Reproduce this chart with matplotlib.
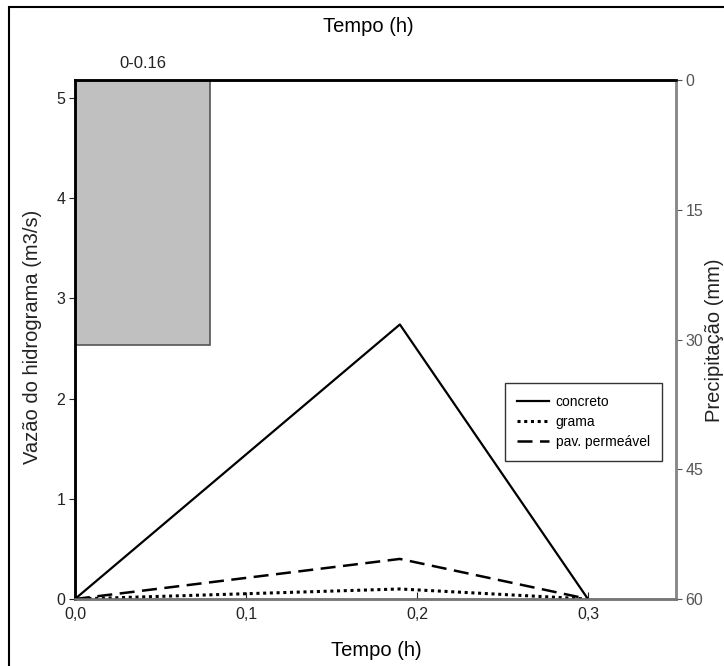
import matplotlib.pyplot as plt
from matplotlib.patches import Rectangle
from matplotlib.ticker import FuncFormatter

plt.rcParams['font.family'] = ['Liberation Sans', 'DejaVu Sans']

# --- DATA ---
tempo = [0.0, 0.19, 0.30]
concreto = [0.0, 2.74, 0.0]
grama = [0.0, 0.10, 0.0]
pav_permeavel = [0.0, 0.40, 0.0]

chuva_inicio = [0.0]
chuva_duracao = [0.079]
chuva_mm = [30.6]
chuva_rotulo = "0-0.16"

x_ticks = [0.0, 0.1, 0.2, 0.3]
y_ticks = [0, 1, 2, 3, 4, 5]
p_ticks = [0, 15, 30, 45, 60]

W, H = 724, 666
fig = plt.figure(figsize=(W / 100, H / 100), dpi=100)
ax = fig.add_axes([75 / W, 1 - 599 / H, 601 / W, 519 / H])

# moldura externa
fig.patches.append(Rectangle((9 / W, -0.1), 1.2, 1 - 7 / H + 0.1,
                             transform=fig.transFigure, fill=False,
                             edgecolor='black', lw=1.5))

ax.plot(tempo, concreto, color='black', lw=1.6, label='concreto')
ax.plot(tempo, grama, color='black', lw=2.2, ls=(0, (1, 1.2)), label='grama')
ax.plot(tempo, pav_permeavel, color='black', lw=1.8, ls=(0, (6, 3)), label='pav. permeável')

ax.set_xlim(0, 0.3515)
ax.set_ylim(0, 5.18)
ax.set_xticks(x_ticks)
ax.set_yticks(y_ticks)
ax.xaxis.set_major_formatter(FuncFormatter(lambda v, p: f"{v:.1f}".replace('.', ',')))
ax.tick_params(axis='x', direction='in', length=5, labelsize=11.5, colors='#222222', pad=6)
ax.tick_params(axis='y', direction='out', length=4, labelsize=11.5, colors='#222222', pad=3)

ax2 = ax.twinx()
ax2.bar(chuva_inicio, chuva_mm, width=chuva_duracao, align='edge',
        color='#c0c0c0', edgecolor='#555555', lw=1.2)
ax2.set_ylim(60, 0)
ax2.set_yticks(p_ticks)
ax2.tick_params(axis='y', direction='out', length=4, labelsize=11.5, colors='#555555', pad=3)
ax2.text(chuva_inicio[0] + chuva_duracao[0] / 2, -1.0, chuva_rotulo,
         ha='center', va='bottom', fontsize=12, color='#222222')

for a in (ax, ax2):
    a.spines['top'].set_color('black')
    a.spines['top'].set_linewidth(1.8)
    a.spines['left'].set_color('black')
    a.spines['left'].set_linewidth(1.8)
    a.spines['bottom'].set_color('#777777')
    a.spines['bottom'].set_linewidth(1.8)
    a.spines['right'].set_color('#888888')
    a.spines['right'].set_linewidth(1.8)

ax.set_zorder(ax2.get_zorder() + 1)
ax.patch.set_visible(False)

leg = ax.legend(loc='upper left', bbox_to_anchor=((505 - 75) / 601, (599 - 383) / 519),
                fontsize=10, frameon=True, fancybox=False, handlelength=2.3,
                borderpad=0.85, labelspacing=0.45, handletextpad=0.5, borderaxespad=0)
leg.get_frame().set_edgecolor('black')
leg.get_frame().set_linewidth(1.0)

# titulos dos eixos
fig.text(368 / W, 1 - 27 / H, 'Tempo (h)', ha='center', va='center', fontsize=14.5)
fig.text(376 / W, 1 - 651 / H, 'Tempo (h)', ha='center', va='center', fontsize=14.5)
fig.text(33 / W, 1 - 337 / H, 'Vazão do hidrograma (m3/s)', ha='center', va='center',
         rotation=90, fontsize=14.5, color='#222222')
fig.text(705 / W, 1 - 340 / H, 'Precipitação (mm)', ha='left', va='center',
         rotation=90, fontsize=14.5, color='#222222')

fig.savefig('out.png', dpi=100)
